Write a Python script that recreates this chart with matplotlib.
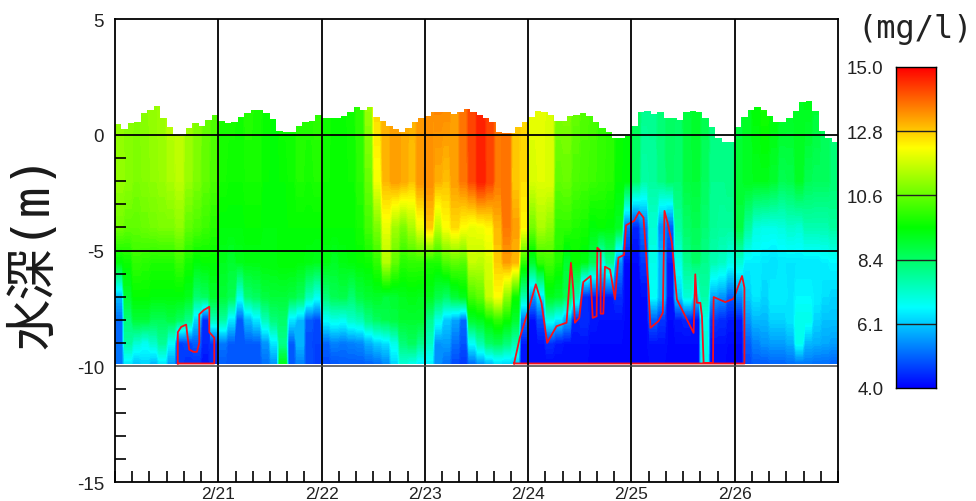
# DO profile, depth vs date
import numpy as np
import matplotlib
matplotlib.use("Agg")
import matplotlib.pyplot as plt
from matplotlib.colors import LinearSegmentedColormap

# depth of each row [m]
depths = [1.6, -2, -4, -5.5, -7, -8, -9, -9.87]

# concentration [mg/l], 12 columns per day, 2/20 .. 2/26
conc_top = [11.0,11.0,10.9,11.0,11.1,11.2,11.5,11.6,11.2,10.9,10.6,10.4,
            9.8,9.8,9.7,9.9,9.8,9.6,9.5,9.7,9.7,9.9,9.9,10.0,
            9.7,9.6,9.6,9.7,10.0,11.2,12.8,13.1,13.3,13.2,13.1,13.3,
            13.4,13.6,13.6,13.2,13.8,14.3,14.6,14.3,13.7,13.8,12.9,12.7,
            12.0,12.0,11.8,10.9,10.9,10.6,10.4,10.3,10.1,10.0,9.6,9.5,
            8.6,8.0,8.0,8.3,8.5,8.4,8.9,9.1,8.7,8.2,8.1,8.0,
            8.8,9.2,9.5,9.8,9.5,9.3,9.2,9.2,9.3,9.0,8.6,8.3]
conc_m2 = [11.1,11.0,10.8,10.9,11.0,11.1,11.3,11.5,11.1,10.8,10.5,10.3,
           9.7,9.6,9.6,9.7,9.7,9.5,9.5,9.5,9.6,9.8,9.7,9.8,
           9.6,9.6,9.6,9.6,9.9,10.6,12.1,13.0,13.3,13.2,12.9,13.4,
           13.5,13.1,12.9,13.3,13.7,14.2,14.7,14.3,13.7,13.8,12.8,12.6,
           11.8,11.9,11.9,10.5,10.6,10.3,10.2,10.1,10.0,9.9,9.5,9.4,
           8.4,7.7,7.8,8.1,8.4,8.3,8.8,8.9,8.5,8.0,8.0,8.1,
           9.0,9.2,9.2,9.2,9.0,8.6,8.7,9.1,8.6,8.5,8.5,8.3]
conc_m4 = [10.7,10.5,10.5,10.6,10.7,10.8,10.8,11.0,10.5,10.3,10.1,9.9,
           9.4,9.4,9.4,9.5,9.5,9.4,9.4,9.5,9.5,9.5,9.5,9.5,
           9.5,9.5,9.5,9.5,9.7,10.2,10.8,12.0,11.2,10.8,11.3,12.0,
           12.8,11.5,12.2,12.6,12.2,12.0,12.1,12.3,13.0,13.7,13.3,12.3,
           10.7,11.3,11.0,10.0,10.0,9.8,9.7,9.4,9.5,9.4,9.1,5.2,
           4.4,5.2,7.2,5.5,5.0,7.8,8.4,8.6,8.3,7.9,7.8,7.8,
           8.8,7.8,7.1,7.0,7.0,7.1,7.3,7.2,7.6,7.6,7.6,7.8]
conc_m55 = [9.4,9.6,10.0,9.9,9.8,9.8,9.8,10.1,9.7,9.4,9.5,9.5,
            9.2,9.0,9.2,9.3,9.3,9.4,9.4,9.5,9.5,9.4,9.3,9.2,
            9.3,9.1,9.3,9.4,9.5,9.6,10.0,11.4,10.5,9.9,10.0,10.0,
            9.8,9.8,10.3,10.5,10.4,11.6,11.5,11.8,12.8,13.3,13.0,10.0,
            9.0,10.0,10.2,9.8,9.0,9.5,9.3,8.6,7.0,8.0,5.5,4.1,
            4.1,4.6,7.0,6.0,4.3,7.0,8.0,8.4,8.0,7.6,7.4,7.0,
            7.2,6.6,6.6,6.5,6.4,6.5,6.5,6.5,6.5,6.5,6.6,6.7]
conc_m7 = [6.0,9.0,9.5,9.5,9.4,9.4,9.4,9.4,9.2,8.3,8.5,9.0,
           8.9,8.6,7.0,8.3,8.5,8.8,8.9,8.9,8.8,8.5,7.5,6.9,
           8.2,8.6,8.7,8.3,8.8,9.0,9.1,8.9,9.0,9.2,9.3,9.2,
           9.2,8.7,8.4,8.9,9.2,10.2,10.5,11.6,12.2,11.0,9.6,7.6,
           5.6,6.5,9.2,9.0,8.6,7.5,4.4,4.3,4.3,4.3,4.5,4.1,
           4.1,4.1,6.8,6.0,4.2,6.2,7.2,6.5,7.7,5.8,5.6,5.0,
           5.5,6.2,6.5,6.3,6.6,6.6,6.5,6.7,6.7,6.6,6.4,6.3]
conc_m8 = [5.2,8.2,8.9,8.9,8.6,8.6,8.8,8.5,8.0,6.3,4.5,7.5,
           7.8,6.5,5.0,6.0,6.5,7.5,8.2,8.4,6.5,6.0,5.0,4.8,
           6.8,7.0,6.9,7.3,7.5,8.1,8.5,8.7,8.8,9.0,9.0,9.0,
           8.0,7.0,6.2,5.8,5.2,9.0,9.2,9.6,10.0,9.6,9.0,5.3,
           4.2,4.8,7.0,6.5,5.8,4.4,4.5,4.3,4.2,4.2,4.2,4.1,
           4.1,4.1,5.0,4.6,4.1,4.3,4.4,4.2,7.0,4.6,4.5,4.3,
           4.3,5.6,6.0,6.0,6.3,6.3,6.5,7.0,7.0,6.3,6.1,6.1]
conc_m9 = [5.2,7.8,7.2,6.9,7.3,7.9,6.8,4.7,4.8,5.0,4.4,4.6,
           5.3,5.0,5.0,5.0,5.0,5.6,6.5,8.0,5.0,6.0,4.8,4.7,
           5.1,5.4,5.3,5.4,5.5,5.9,6.2,6.4,7.0,8.2,8.5,8.0,
           7.4,5.6,5.7,5.2,4.9,6.8,7.6,8.4,8.6,8.2,7.6,4.3,
           4.1,4.2,4.5,4.3,4.2,4.2,4.2,4.1,4.1,4.1,4.1,4.1,
           4.1,4.1,4.2,4.2,4.1,4.1,4.1,4.1,7.2,4.2,4.2,4.1,
           4.1,5.0,5.4,5.6,5.7,5.7,5.9,6.9,6.0,5.9,5.8,5.7]
conc_bot = [5.3,6.5,6.1,6.3,6.0,6.5,5.7,4.6,4.5,4.5,4.2,4.5,
            5.0,5.0,5.0,5.0,5.0,5.2,5.6,9.2,5.0,5.4,4.9,4.7,
            4.8,4.9,5.0,5.0,5.0,5.1,5.2,5.5,6.3,7.2,7.0,6.6,
            6.6,5.5,5.2,4.8,4.6,5.2,5.6,6.0,6.4,6.3,6.2,4.2,
            4.2,4.1,4.1,4.1,4.1,4.1,4.1,4.1,4.1,4.1,4.1,4.1,
            4.1,4.1,4.1,4.1,4.1,4.1,4.1,4.1,6.9,4.2,4.1,4.1,
            4.1,4.8,5.0,5.0,5.1,5.1,5.2,5.3,5.3,5.2,5.2,5.1]

# water surface [m], 16 steps per day
surface = [.46,.25,.49,.56,.94,1.07,1.23,.71,.32,0,-.04,.27,.5,.39,.63,.85,
           .58,.5,.53,.75,.94,1.07,1.07,.94,.68,.17,.13,.13,.36,.56,.61,.85,
           .72,.72,.72,.79,.97,1.18,1.08,1.18,.75,.61,.36,.25,.1,.27,.53,.71,
           .79,1.0,1.0,1.0,.89,1.0,1.11,1.0,.85,.71,.53,.1,.07,.07,.32,.53,
           .75,1.04,1.0,.85,.58,.58,.79,.85,.94,.79,.53,.27,.1,-.16,-.16,-.04,
           .39,1.0,1.04,.89,.97,.71,.71,.65,.97,1.04,1.0,.71,.32,-.12,-.33,-.33,
           .32,.75,1.08,1.18,1.08,.82,.53,.56,.71,1.04,1.4,1.47,1.04,.17,-.12,-.33]

# red outlines (date, depth)
low_x1 = [20.608,20.608,20.641,20.689,20.702,20.718,20.761,20.793,20.816,20.816,20.858,20.913,20.913,20.961,20.961,20.608]
low_y1 = [-9.88,-8.53,-8.30,-8.20,-8.70,-9.28,-9.38,-9.38,-8.99,-7.76,-7.58,-7.43,-8.53,-8.77,-9.88,-9.88]
low_x2 = [23.864,23.919,24.000,24.074,24.129,24.184,24.275,24.372,24.414,24.437,24.453,24.495,24.534,24.605,24.625,24.663,24.670,24.702,24.702,24.728,24.744,24.793,24.841,24.874,24.929,24.948,25.026,25.074,25.117,25.139,25.165,25.184,25.262,25.304,25.320,25.350,25.392,25.440,25.602,25.618,25.634,25.667,25.683,25.699,25.790,25.796,25.909,25.990,26.071,26.094,26.094,23.864]
low_y2 = [-9.88,-8.77,-7.62,-6.46,-7.26,-8.99,-8.27,-8.12,-5.53,-6.68,-8.12,-7.91,-6.36,-6.10,-7.91,-7.84,-4.88,-5.02,-7.73,-7.73,-5.70,-5.82,-7.11,-5.31,-5.19,-3.91,-3.72,-3.33,-3.58,-4.95,-6.61,-8.34,-8.05,-7.69,-3.29,-3.80,-4.66,-7.11,-8.56,-6.03,-7.26,-7.26,-7.84,-9.86,-9.86,-7.01,-7.23,-7.08,-6.10,-6.61,-9.88,-9.88]

day_ticks = [21, 22, 23, 24, 25, 26]
day_labels = ["2/21", "2/22", "2/23", "2/24", "2/25", "2/26"]
cbar_labels = ["4.0", "6.1", "8.4", "10.6", "12.8", "15.0"]

cmap = LinearSegmentedColormap.from_list("do", ["#0000ff", "#00ffff", "#00ff00", "#ffff00", "#ff0000"], N=256)
conc_min = 4.0
conc_max = 15.0

W = 976.0
H = 502.0
plt.rcParams['font.family'] = ['Liberation Sans', 'DejaVu Sans']
plt.rcParams['axes.unicode_minus'] = False
fig = plt.figure(figsize=(W/100, H/100), dpi=100)

# main panel
ax = fig.add_axes([115/W, 1-483/H, 723/W, 463/H])
ncol = len(conc_top)
conc = np.array([conc_top, conc_m2, conc_m4, conc_m55, conc_m7, conc_m8, conc_m9, conc_bot])
# each column stays flat over most of its width so the streaks stay visible
x_cols = np.ravel(np.column_stack([np.arange(ncol)+0.15, np.arange(ncol)+0.85]))/12.0 + 20
x_cols[0] = 20
x_cols[-1] = 27
levels = np.linspace(conc_min, conc_max, 111)
ax.contourf(x_cols, depths, np.repeat(conc, 2, axis=1), levels=levels, cmap=cmap,
            vmin=conc_min, vmax=conc_max, antialiased=False, zorder=1)
x_surf = 20 + np.arange(len(surface)+1)/16.0
ax.fill_between(x_surf, list(surface)+[surface[-1]], 5.5, step='post', color='white', lw=0, zorder=2)

ax.plot(low_x1, low_y1, color='#f5101c', lw=1.3, zorder=3)
ax.plot(low_x2, low_y2, color='#f5101c', lw=1.3, zorder=3)

for d in day_ticks:
    ax.axvline(d, color='black', lw=1.3, zorder=4)
for y in [0, -5]:
    ax.axhline(y, color='black', lw=1.3, zorder=4)
ax.axhline(-10, color='#444444', lw=1.1, zorder=4)

ax.set_xlim(20, 27)
ax.set_ylim(-15, 5)
ax.set_yticks([5, 0, -5, -10, -15])
ax.set_yticks(np.arange(-15, 6, 1), minor=True)
ax.set_xticks(day_ticks)
ax.set_xticklabels(day_labels)
ax.set_xticks(20 + np.arange(0, 43)/6.0, minor=True)
ax.tick_params(axis='y', which='major', length=0, labelsize=13.5, colors='#222222', pad=8)
ax.tick_params(axis='x', which='major', length=0, labelsize=12.5, colors='#222222', pad=3)
ax.tick_params(axis='both', which='minor', direction='in', length=8, width=1.2, color='black')
for s in ax.spines.values():
    s.set_linewidth(1.3)
    s.set_zorder(5)

fig.text(34/W, 1-251/H, "水深(m)", rotation=90, ha='center', va='center', fontsize=37,
         family=['DejaVu Sans Mono', 'Noto Sans CJK JP'], color='#1a1a1a')

# colour bar
cax = fig.add_axes([896/W, 1-389/H, 40/W, 321/H])
grad = np.linspace(conc_min, conc_max, 256).reshape(-1, 1)
cax.imshow(grad, origin='lower', aspect='auto', cmap=cmap, vmin=conc_min, vmax=conc_max,
           extent=[0, 1, conc_min, conc_max])
cticks = np.linspace(conc_min, conc_max, 6)
for c in cticks[1:-1]:
    cax.axhline(c, color='#222222', lw=1)
cax.set_xticks([])
cax.set_yticks(cticks)
cax.set_yticklabels(cbar_labels)
cax.tick_params(axis='y', length=0, labelsize=13.5, colors='#222222', pad=9)
for s in cax.spines.values():
    s.set_linewidth(1)

fig.text(915/W, 1-30/H, "(mg/l)", ha='center', va='center', fontsize=23,
         family=['DejaVu Sans Mono'], color='#222222')

fig.savefig("out.png", dpi=100)
